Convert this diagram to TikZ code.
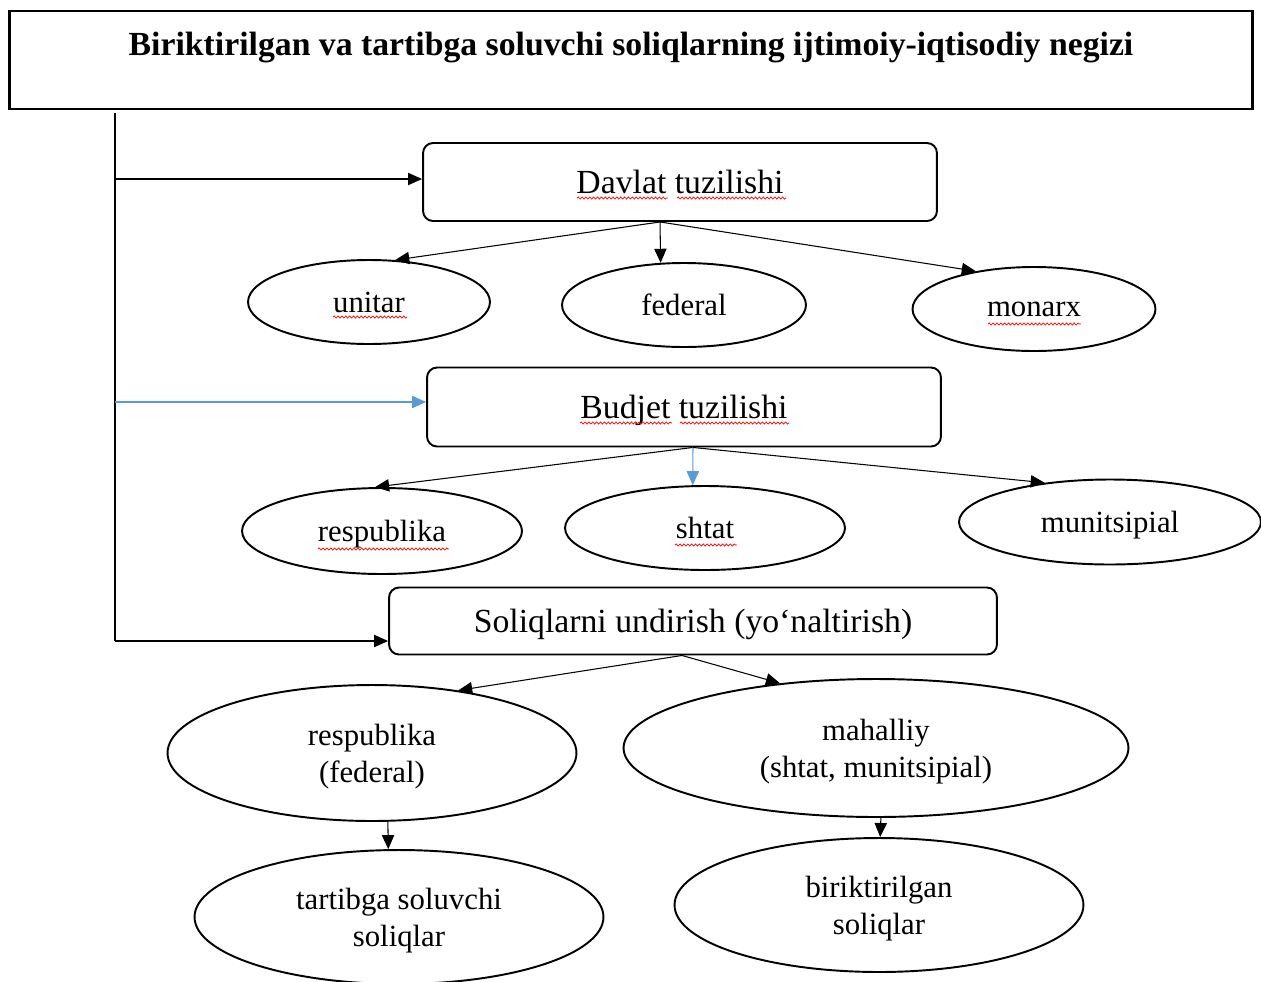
\documentclass[tikz,border=0pt]{standalone}
\usepackage{fontspec}
\setmainfont{Liberation Serif}
\usetikzlibrary{arrows.meta,shapes.geometric,decorations.pathmorphing}
\definecolor{linkblue}{RGB}{91,155,213}
\begin{document}
\begin{tikzpicture}[
  x=0.02cm, y=-0.02cm,
  box/.style={draw, line width=1.1pt, rounded corners=2mm, inner sep=0,
    font=\fontsize{19.2}{23}\selectfont},
  ov/.style={ellipse, draw, line width=1.1pt, inner sep=0, align=center,
    font=\fontsize{17.5}{21}\selectfont},
  arr/.style={-{Triangle[length=8pt,width=7pt]}, line width=0.6pt},
  wavy/.style={red, line width=0.4pt, decorate,
    decoration={snake, amplitude=0.6pt, segment length=2.2pt}}
]
\useasboundingbox (0,0) rectangle (1261,981);

% title
\node[draw, line width=1.6pt, minimum width=24.88cm, minimum height=1.96cm, inner sep=0] (frame) at (631,60) {};
\node[font=\bfseries\fontsize{19.2}{23}\selectfont, text depth=0pt] (title) at (631,44)
  {Biriktirilgan va tartibga soluvchi soliqlarning ijtimoiy-iqtisodiy negizi};

% main boxes
\node[box, minimum width=10.28cm, minimum height=1.56cm] (davlat) at (680,182) {Davlat tuzilishi};
\node[box, minimum width=10.28cm, minimum height=1.58cm, text depth=0pt] (budjet) at (684,407) {Budjet tuzilishi};
\node[box, minimum width=12.16cm, minimum height=1.34cm, text depth=0pt] (undir) at (693,621) {Soliqlarni undirish (yo‘naltirish)};

% ellipses
\node[ov, minimum width=4.84cm, minimum height=1.68cm] (unitar) at (369,302) {unitar};
\node[ov, minimum width=4.88cm, minimum height=1.68cm] (federal) at (684,305) {federal};
\node[ov, minimum width=4.86cm, minimum height=1.68cm] (monarx) at (1034,309) {monarx};
\node[ov, minimum width=5.6cm, minimum height=1.72cm, text depth=0pt] (respub) at (382,531) {respublika};
\node[ov, minimum width=5.6cm, minimum height=1.68cm] (shtat) at (705,528) {shtat};
\node[ov, minimum width=6.04cm, minimum height=1.7cm, text depth=0pt] (munits) at (1110,522) {munitsipial};
\node[ov, minimum width=8.18cm, minimum height=2.72cm, text depth=0pt] (respfed) at (372,753) {respublika\\(federal)};
\node[ov, minimum width=10.1cm, minimum height=2.76cm, text depth=0pt] (mahal) at (876,748) {mahalliy\\(shtat, munitsipial)};
\node[ov, minimum width=8.18cm, minimum height=2.68cm, text depth=0pt] (tartib) at (399,917) {tartibga soluvchi\\soliqlar};
\node[ov, minimum width=8.18cm, minimum height=2.68cm, text depth=0pt] (birik) at (879,905) {biriktirilgan\\soliqlar};

% left spine
\coordinate (spinetop) at (115,113);
\coordinate (j1) at (115,179);
\coordinate (j2) at (115,402);
\coordinate (j3) at (115,641);
\draw[line width=0.6pt] (spinetop) -- (j3);
\draw[arr] (j1) -- (j1 -| davlat.west);
\draw[arr, linkblue] (j2) -- (j2 -| budjet.west);
\draw[arr] (j3) -- (j3 -| undir.west);

% fans
\coordinate (dv) at ([xshift=-0.4cm]davlat.south);
\draw[arr] (dv) -- (unitar.58);
\draw[arr] (dv) -- (federal.119);
\draw[arr] (dv) -- (monarx.147);

\coordinate (bt) at ([xshift=0.18cm]budjet.south);
\draw[arr] (bt) -- (respub.99);
\draw[arr, linkblue] (bt) -- (shtat.106);
\draw[arr] (bt) -- (munits.149);

\coordinate (ud) at ([xshift=-0.22cm]undir.south);
\draw[arr] (ud) -- (respfed.36);
\draw[arr] (ud) -- (mahal.146);
\draw[arr] (respfed.-77) -- (tartib.99);
\draw[arr] (mahal.-86) -- (birik.89);

% spell-check marks
\draw[wavy] (577,198) -- (668,198);
\draw[wavy] (677,198) -- (786,198);
\draw[wavy] (333,317) -- (407,317);
\draw[wavy] (988,324) -- (1081,324);
\draw[wavy] (580,423) -- (672,423);
\draw[wavy] (680,423) -- (789,423);
\draw[wavy] (318,549) -- (449,549);
\draw[wavy] (675,545) -- (737,545);
\end{tikzpicture}
\end{document}
